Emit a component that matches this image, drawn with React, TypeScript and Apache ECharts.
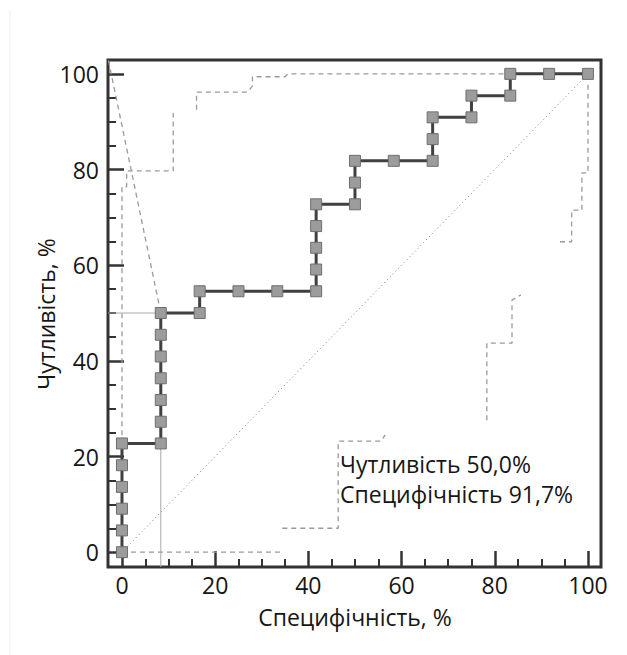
import React, { useEffect, useRef } from "react";
import * as echarts from "echarts";

// ROC curve points (x: Специфічність %, y: Чутливість %)
const rocX = [0, 0, 0, 0, 0, 0, 8.33, 8.33, 8.33, 8.33, 8.33, 8.33, 8.33, 16.67, 16.67, 25, 33.33, 41.67, 41.67, 41.67, 41.67, 41.67, 50, 50, 50, 58.33, 66.67, 66.67, 66.67, 75, 75, 83.33, 83.33, 91.67, 100];
const rocY = [0, 4.55, 9.09, 13.64, 18.18, 22.73, 22.73, 27.27, 31.82, 36.36, 40.91, 45.45, 50, 50, 54.55, 54.55, 54.55, 54.55, 59.09, 63.64, 68.18, 72.73, 72.73, 77.27, 81.82, 81.82, 81.82, 86.36, 90.91, 90.91, 95.45, 95.45, 100, 100, 100];

// Confidence band (upper, visible segments)
const upperBand1 = [[0, 0], [0, 76.4], [1, 76.4], [1, 79.7], [11, 79.7], [11, 91.8]];
const upperBand2 = [[16, 92.5], [16, 96.2], [27, 96.2], [28, 97.5], [28, 99.4], [35, 99.4], [35.6, 100], [83.33, 100]];
// Confidence band (lower, visible segments)
const lowerBand1 = [[0, 0], [34, 0]];
const lowerBand2 = [[34.4, 5], [46.4, 5], [46.4, 23.2], [55.5, 23.2], [56.5, 24.5]];
const lowerBand3 = [[78.3, 27.6], [78.3, 43.7], [83.7, 43.7], [83.7, 52.7], [85.6, 53.8]];
const lowerBand4 = [[94, 64.9], [96.5, 64.9], [96.5, 71.5], [98.7, 71.5], [98.7, 79.3], [100, 79.3], [100, 98]];

// Reference lines
const diagonal = [[0, 0], [100, 100]];
const cutoffX = 8.33;
const cutoffY = 50;
const slantLine = [[-2.9, 102.8], [cutoffX, cutoffY]];

// Axis ticks
const majorTicks = [0, 20, 40, 60, 80, 100];
const minorTicks = [5, 10, 15, 25, 30, 35, 45, 50, 55, 65, 70, 75, 85, 90, 95];

const xTitle = "Специфічність, %";
const yTitle = "Чутливість, %";
const noteLines = ["Чутливість 50,0%", "Специфічність 91,7%"];

const X_MIN = -3;
const X_MAX = 102.8;
const Y_MIN = -3.1;
const Y_MAX = 102.9;

const FONT = "Open Sans";
const AXIS_COLOR = "#333333";
const TEXT_COLOR = "#161616";

export default function App() {
  const ref = useRef<HTMLDivElement>(null);

  useEffect(() => {
    if (!ref.current) return;
    const chart = echarts.init(ref.current, undefined, { renderer: "svg" });

    const bandStyle = { color: "#9a9a9a", width: 1.3, type: [5, 4] as any };
    const bandSeries = (data: number[][]) => ({
      type: "line",
      data,
      symbol: "none",
      silent: true,
      lineStyle: bandStyle,
      z: 2,
    });

    const baseX = {
      type: "value",
      min: X_MIN,
      max: X_MAX,
      gridIndex: 0,
      position: "bottom",
      axisLine: { show: false, onZero: false },
      splitLine: { show: false },
    };
    const baseY = {
      type: "value",
      min: Y_MIN,
      max: Y_MAX,
      gridIndex: 0,
      position: "left",
      axisLine: { show: false, onZero: false },
      splitLine: { show: false },
    };

    chart.setOption({
      animation: false,
      backgroundColor: "#ffffff",
      grid: {
        left: 108,
        right: 26,
        top: 60,
        bottom: 88,
        show: true,
        borderColor: AXIS_COLOR,
        borderWidth: 3,
        backgroundColor: "transparent",
      },
      xAxis: [
        {
          ...baseX,
          axisTick: {
            show: true,
            inside: true,
            length: 16,
            customValues: majorTicks,
            lineStyle: { color: AXIS_COLOR, width: 2.5 },
          },
          axisLabel: {
            show: true,
            customValues: majorTicks,
            margin: 6,
            fontSize: 23,
            fontFamily: FONT,
            color: TEXT_COLOR,
          },
        },
        {
          ...baseX,
          axisTick: {
            show: true,
            inside: true,
            length: 8,
            customValues: minorTicks,
            lineStyle: { color: AXIS_COLOR, width: 2 },
          },
          axisLabel: { show: false },
        },
      ],
      yAxis: [
        {
          ...baseY,
          axisTick: {
            show: true,
            inside: true,
            length: 16,
            customValues: majorTicks,
            lineStyle: { color: AXIS_COLOR, width: 2.5 },
          },
          axisLabel: {
            show: true,
            customValues: majorTicks,
            margin: 9,
            fontSize: 23,
            fontFamily: FONT,
            color: TEXT_COLOR,
          },
        },
        {
          ...baseY,
          axisTick: {
            show: true,
            inside: true,
            length: 8,
            customValues: minorTicks,
            lineStyle: { color: AXIS_COLOR, width: 2 },
          },
          axisLabel: { show: false },
        },
      ],
      series: [
        {
          type: "line",
          data: diagonal,
          symbol: "none",
          silent: true,
          lineStyle: { color: "#7a7a7a", width: 1, type: [1, 3] },
          z: 1,
        },
        bandSeries(upperBand1),
        bandSeries(upperBand2),
        bandSeries(lowerBand1),
        bandSeries(lowerBand2),
        bandSeries(lowerBand3),
        bandSeries(lowerBand4),
        {
          type: "line",
          data: slantLine,
          symbol: "none",
          silent: true,
          lineStyle: { color: "#9a9a9a", width: 1.3, type: [5, 4] },
          z: 2,
        },
        {
          type: "line",
          data: [[X_MIN, cutoffY], [cutoffX, cutoffY]],
          symbol: "none",
          silent: true,
          lineStyle: { color: "#a8a8a8", width: 1 },
          z: 2,
        },
        {
          type: "line",
          data: [[cutoffX, cutoffY], [cutoffX, Y_MIN]],
          symbol: "none",
          silent: true,
          lineStyle: { color: "#a8a8a8", width: 1 },
          z: 2,
        },
        {
          type: "line",
          data: rocX.map((x, i) => [x, rocY[i]]),
          symbol: "rect",
          symbolSize: 11,
          itemStyle: { color: "#9c9c9c", borderColor: "#6e6e6e", borderWidth: 1 },
          lineStyle: { color: "#404040", width: 3 },
          z: 5,
        },
      ],
      graphic: [
        {
          type: "line",
          shape: { x1: 10, y1: 10, x2: 10, y2: 655 },
          style: { stroke: "#efefef", lineWidth: 1 },
          silent: true,
        },
        {
          type: "text",
          x: 46,
          y: 314,
          rotation: Math.PI / 2,
          style: {
            text: yTitle,
            fontSize: 23,
            fontFamily: FONT,
            fill: TEXT_COLOR,
            align: "center",
            verticalAlign: "middle",
          },
        },
        {
          type: "text",
          x: 355,
          y: 617,
          style: {
            text: xTitle,
            fontSize: 23,
            fontFamily: FONT,
            fill: TEXT_COLOR,
            align: "center",
            verticalAlign: "middle",
          },
        },
        {
          type: "text",
          x: 340,
          y: 464,
          style: {
            text: noteLines[0],
            fontSize: 23,
            fontFamily: FONT,
            fill: TEXT_COLOR,
            align: "left",
            verticalAlign: "middle",
          },
        },
        {
          type: "text",
          x: 340,
          y: 494,
          style: {
            text: noteLines[1],
            fontSize: 23,
            fontFamily: FONT,
            fill: TEXT_COLOR,
            align: "left",
            verticalAlign: "middle",
          },
        },
      ],
    });

    return () => chart.dispose();
  }, []);

  return (
    <div
      ref={ref}
      style={{ position: "fixed", left: 0, top: 0, width: 627, height: 655, background: "#fff" }}
    />
  );
}
